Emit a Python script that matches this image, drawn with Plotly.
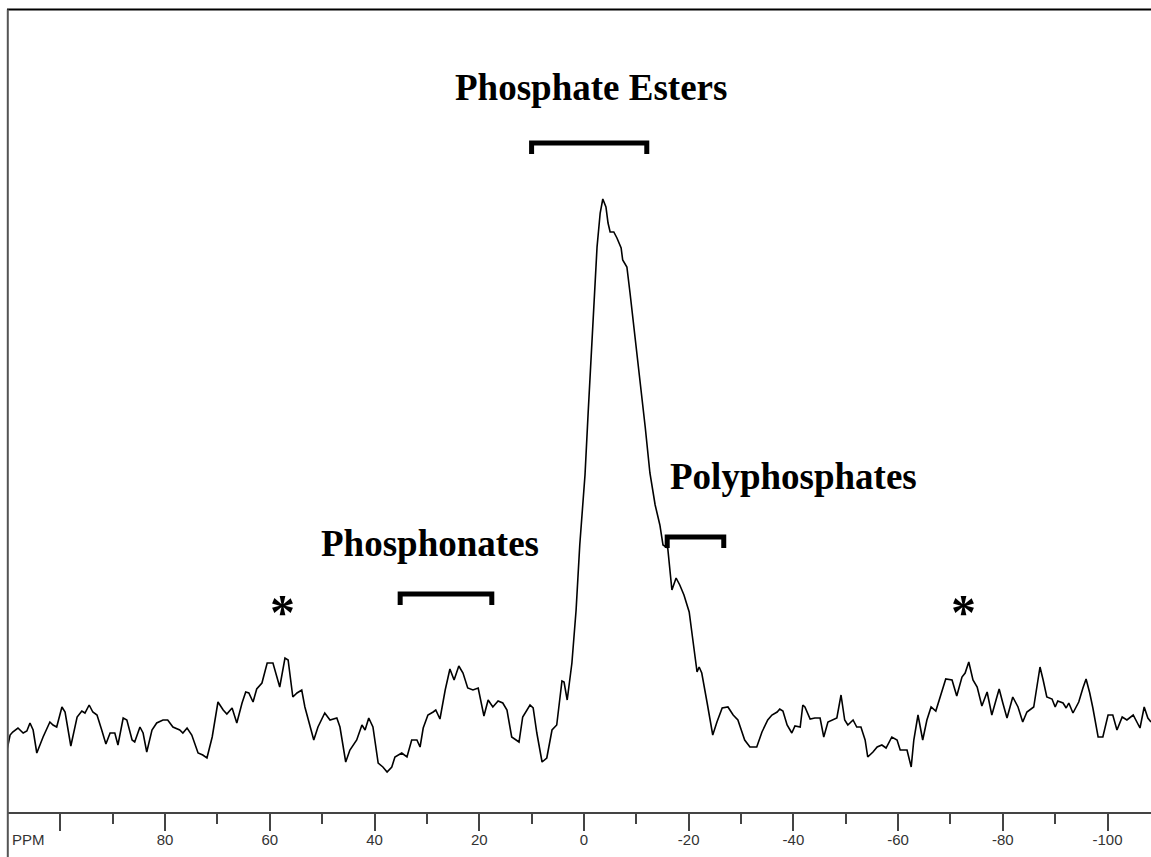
import plotly.graph_objects as go

# ---- spectrum data (chemical shift in ppm, intensity in arbitrary units) ----
ppm = [110.2, 109.6, 109.1, 108.1, 107.1, 106.4, 105.8, 105.2, 104.5, 103.3, 102.0, 101.4, 100.7, 99.7, 99.1,
       98.0, 96.8, 95.9, 95.3, 94.5, 93.8, 93.0, 92.1, 91.3, 90.5, 89.6, 89.0, 88.0, 87.3, 86.3, 85.8, 84.8,
       84.2, 83.5, 82.5, 81.6, 80.4, 79.5, 78.5, 77.2, 76.6, 75.8, 74.9, 73.7, 72.8, 72.0, 71.0, 69.9, 68.9,
       68.2, 67.2, 66.3, 65.3, 64.6, 64.0, 63.2, 62.5, 61.5, 60.5, 59.4, 58.1, 57.1, 56.5, 55.6, 54.8, 53.9,
       53.3, 52.7, 51.6, 50.8, 49.5, 48.5, 47.2, 46.6, 45.5, 44.7, 43.4, 42.4, 41.8, 41.1, 40.3, 39.3, 38.4,
       37.6, 36.7, 36.1, 34.8, 33.8, 32.9, 31.9, 31.3, 30.7, 29.8, 28.8, 28.3, 27.5, 26.5, 25.6, 24.8, 23.9,
       23.1, 22.2, 21.2, 20.2, 19.1, 18.3, 17.4, 16.4, 15.5, 14.7, 13.8, 12.4, 11.7, 10.3, 9.7, 9.0, 8.0, 7.1,
       6.1, 5.2, 4.2, 3.8, 3.2, 2.3, 1.9, 1.5, 0.8, -0.2, -0.8, -1.5, -1.9, -2.5, -3.1, -3.6, -4.2, -4.6,
       -5.0, -5.7, -6.3, -7.1, -7.4, -8.2, -8.8, -9.7, -10.7, -11.7, -12.6, -13.6, -14.5, -15.1, -16.0,
       -16.8, -17.6, -18.3, -19.1, -20.1, -20.8, -21.6, -22.0, -22.5, -23.5, -24.6, -25.4, -26.4, -27.5,
       -28.5, -29.4, -30.7, -31.7, -33.0, -34.0, -35.1, -35.9, -36.9, -37.4, -38.0, -38.8, -39.7, -40.3,
       -41.3, -41.8, -42.2, -43.2, -44.1, -45.1, -45.8, -46.6, -47.4, -48.3, -49.1, -49.8, -50.4, -51.4,
       -52.1, -52.9, -53.7, -54.2, -55.2, -56.0, -56.9, -57.7, -58.8, -59.8, -60.4, -61.7, -62.5, -63.0,
       -63.8, -64.7, -65.5, -66.3, -67.2, -68.4, -69.1, -70.3, -71.2, -72.2, -72.8, -73.5, -74.3, -75.1,
       -76.0, -77.0, -77.9, -78.7, -79.3, -80.0, -80.8, -81.9, -82.9, -83.8, -84.6, -85.9, -86.5, -87.1,
       -87.7, -88.4, -89.4, -90.0, -90.5, -91.5, -92.1, -92.6, -93.4, -94.5, -95.3, -95.9, -96.6, -97.2,
       -98.2, -99.1, -100.1, -101.0, -101.8, -102.8, -103.7, -104.9, -106.2, -107.0, -107.7, -108.3]

intensity = [62, 77, 80, 84, 79, 81, 89, 82, 59, 75, 90, 87, 85, 105, 100,
             66, 95, 101, 99, 107, 100, 97, 82, 68, 79, 79, 67, 94, 92, 72, 70, 85,
             79, 60, 82, 89, 92, 92, 85, 82, 79, 84, 77, 59, 57, 54, 75, 110, 102,
             98, 104, 89, 109, 120, 119, 110, 123, 129, 149, 149, 125, 154, 152, 115, 119, 122,
             105, 94, 72, 85, 99, 92, 94, 85, 50, 62, 72, 87, 82, 94, 85, 49, 45,
             40, 45, 55, 59, 55, 72, 72, 65, 84, 97, 100, 102, 93, 122, 143, 132, 146,
             139, 124, 122, 124, 96, 112, 105, 111, 109, 102, 75, 70, 95, 107, 104, 79, 50, 54,
             82, 87, 131, 130, 112, 149, 172, 202, 267, 337, 399, 465, 515, 565, 599, 613, 605, 589,
             580, 580, 574, 564, 552, 545, 519, 479, 432, 385, 339, 307, 287, 267, 264,
             222, 234, 227, 217, 200, 172, 140, 145, 139, 110, 77, 90, 104, 105,
             97, 92, 72, 65, 65, 80, 92, 97, 100, 103, 101, 87, 79, 86,
             85, 107, 105, 93, 94, 94, 75, 90, 92, 94, 117, 92, 87, 92,
             85, 85, 72, 55, 60, 65, 67, 64, 75, 72, 62, 62, 45, 72,
             97, 72, 92, 105, 101, 120, 133, 132, 116, 135, 139, 150, 132, 125,
             106, 120, 97, 112, 123, 109, 94, 115, 105, 90, 100, 105, 125, 145,
             132, 115, 113, 105, 111, 109, 104, 109, 99, 110, 124, 133, 119, 104,
             75, 75, 97, 97, 82, 95, 92, 97, 84, 105, 94, 90]

# ---- axis ticks ----
major_ticks = [100, 80, 60, 40, 20, 0, -20, -40, -60, -80, -100]
major_labels = ["", "80", "60", "40", "20", "0", "-20", "-40", "-60", "-80", "-100"]
minor_ticks = [90, 70, 50, 30, 10, -10, -30, -50, -70, -90]

# ---- region brackets (ppm start, ppm end, height) and labels ----
bracket_names = ["Phosphate Esters", "Phosphonates", "Polyphosphates"]
bracket_start = [10.0, 35.1, -15.9]
bracket_end = [-12.0, 17.6, -26.7]
bracket_height = [669, 218, 275]

label_ppm = [-1.3, 29.4, -40.0]
label_int = [725, 269, 336]

star_ppm = [57.5, -72.4]
star_int = [200, 200]

fig = go.Figure()

fig.add_trace(go.Scatter(x=ppm, y=intensity, mode="lines",
                         line=dict(color="black", width=1.6), hoverinfo="skip"))

leg = 11
for s, e, h in zip(bracket_start, bracket_end, bracket_height):
    fig.add_trace(go.Scatter(x=[s, s, e, e], y=[h - leg, h, h, h - leg], mode="lines",
                             line=dict(color="black", width=5), hoverinfo="skip"))

serif = "Liberation Serif, Times New Roman, serif"
for name, x, y in zip(bracket_names, label_ppm, label_int):
    fig.add_annotation(x=x, y=y, text="<b>%s</b>" % name, showarrow=False,
                       xanchor="center", yanchor="middle",
                       font=dict(family=serif, size=37, color="black"))
for x, y in zip(star_ppm, star_int):
    fig.add_annotation(x=x, y=y, text="<b>*</b>", showarrow=False,
                       xanchor="center", yanchor="middle",
                       font=dict(family=serif, size=50, color="black"))

fig.add_annotation(x=10 / 1151, y=(857 - 839) / 857, xref="paper", yref="paper",
                   text="PPM", showarrow=False, xanchor="left", yanchor="middle",
                   font=dict(family="Liberation Sans, Arial, sans-serif", size=15, color="#333"))

# frame lines (top and left border)
fig.add_shape(type="line", xref="paper", yref="paper", x0=7 / 1151, x1=1, y0=1 - 9.5 / 857, y1=1 - 9.5 / 857,
              line=dict(color="black", width=2))
fig.add_shape(type="line", xref="paper", yref="paper", x0=7.8 / 1151, x1=7.8 / 1151, y0=0, y1=1 - 9.5 / 857,
              line=dict(color="#555", width=2))

fig.update_layout(
    width=1151, height=857,
    margin=dict(l=0, r=0, t=0, b=0),
    paper_bgcolor="white", plot_bgcolor="white",
    showlegend=False,
    xaxis=dict(domain=[8 / 1151, 1], range=[110, -108.3], showgrid=False, zeroline=False,
               showline=True, linecolor="#444", linewidth=1.5,
               tickmode="array", tickvals=major_ticks, ticktext=major_labels,
               ticks="outside", ticklen=17, tickwidth=1.5, tickcolor="#444",
               ticklabelstandoff=-4,
               tickfont=dict(family="Liberation Sans, Arial, sans-serif", size=15, color="#333"),
               minor=dict(tickvals=minor_ticks, ticks="outside", ticklen=10, tickwidth=1.5,
                          tickcolor="#444", showgrid=False)),
    yaxis=dict(domain=[45 / 857, 1], range=[0, 812], visible=False, showgrid=False, zeroline=False),
)

fig.write_html("out.html", config={"displayModeBar": False},
               post_script="document.body.style.margin='0';document.body.style.padding='0';")
